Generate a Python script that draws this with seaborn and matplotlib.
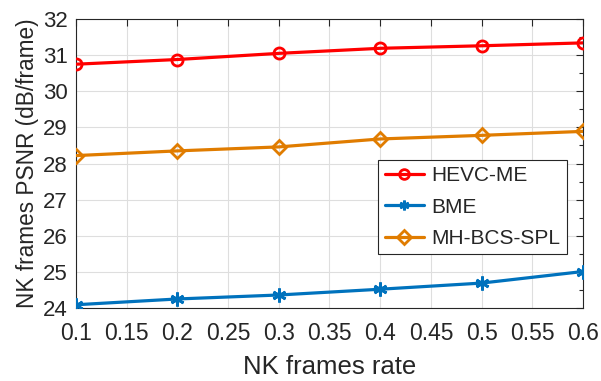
import matplotlib
matplotlib.use("Agg")
import matplotlib.pyplot as plt
import seaborn as sns
import pandas as pd
from matplotlib.ticker import MultipleLocator
from matplotlib.lines import Line2D

rates = [0.1, 0.2, 0.3, 0.4, 0.5, 0.6]
hevc_me = [30.75, 30.88, 31.05, 31.19, 31.26, 31.34]
bme = [24.09, 24.25, 24.36, 24.52, 24.69, 25.01]
mh_bcs_spl = [28.22, 28.35, 28.46, 28.68, 28.78, 28.89]
series_names = ["HEVC-ME", "BME", "MH-BCS-SPL"]
x_ticks = [0.1, 0.15, 0.2, 0.25, 0.3, 0.35, 0.4, 0.45, 0.5, 0.55, 0.6]
y_ticks = [24, 25, 26, 27, 28, 29, 30, 31, 32]

series_values = {"HEVC-ME": hevc_me, "BME": bme, "MH-BCS-SPL": mh_bcs_spl}

sns.set_theme(style="white")
plt.rcParams["font.family"] = ["Liberation Sans", "DejaVu Sans"]

fig = plt.figure(figsize=(6.01, 3.81), dpi=100)
ax = fig.add_axes([0.1265, 0.1916, 0.8435, 0.7584])

palette = {"HEVC-ME": "#FF0000", "BME": "#0072BD", "MH-BCS-SPL": "#E07C00"}
markers = {"HEVC-ME": "o", "BME": (6, 2, 0), "MH-BCS-SPL": "D"}
msizes = {"HEVC-ME": 8, "BME": 10, "MH-BCS-SPL": 7}

for name in series_names:
    d = pd.DataFrame({"rate": rates, "psnr": series_values[name]})
    sns.lineplot(data=d, x="rate", y="psnr", ax=ax, color=palette[name],
                 marker=markers[name], markersize=msizes[name],
                 markerfacecolor="none", markeredgecolor=palette[name],
                 markeredgewidth=2.0, linewidth=2.3, zorder=3)

ax.set_xlim(0.1, 0.6)
ax.set_ylim(24, 32)
ax.set_xticks(x_ticks)
ax.set_xticklabels([f"{v:g}" for v in x_ticks])
ax.set_yticks(y_ticks)
ax.yaxis.set_minor_locator(MultipleLocator(0.5))
ax.grid(True, which="major", color="#DEDEDE", linewidth=0.8)
ax.set_axisbelow(True)

for s in ax.spines.values():
    s.set_color("#262626")
    s.set_linewidth(0.8)
ax.tick_params(axis="both", which="both", direction="in", top=True, right=True,
               colors="#262626", length=5, width=0.8)
ax.tick_params(axis="both", which="minor", length=3)
ax.tick_params(axis="x", which="major", pad=10, labelsize=16.5)
ax.tick_params(axis="y", which="major", pad=6, labelsize=16)

ax.set_xlabel("NK frames rate", fontsize=18.5, color="#262626", labelpad=7)
ax.set_ylabel("NK frames PSNR (dB/frame)", fontsize=16.3, color="#262626", labelpad=3)

handles = [Line2D([0], [0], color=palette[n], marker=markers[n], markerfacecolor="none",
                  markeredgecolor=palette[n], markeredgewidth=2.0, linewidth=2.3,
                  markersize=7) for n in series_names]
leg = ax.legend(handles, series_names, loc="upper right", bbox_to_anchor=(0.968, 0.513),
                fontsize=15, frameon=True, fancybox=False, borderaxespad=0,
                handlelength=1.9, handletextpad=0.35, labelspacing=0.6, borderpad=0.3)
leg.get_frame().set_edgecolor("#262626")
leg.get_frame().set_linewidth(0.8)
leg.get_frame().set_alpha(1)

fig.savefig("out.png", dpi=100)
